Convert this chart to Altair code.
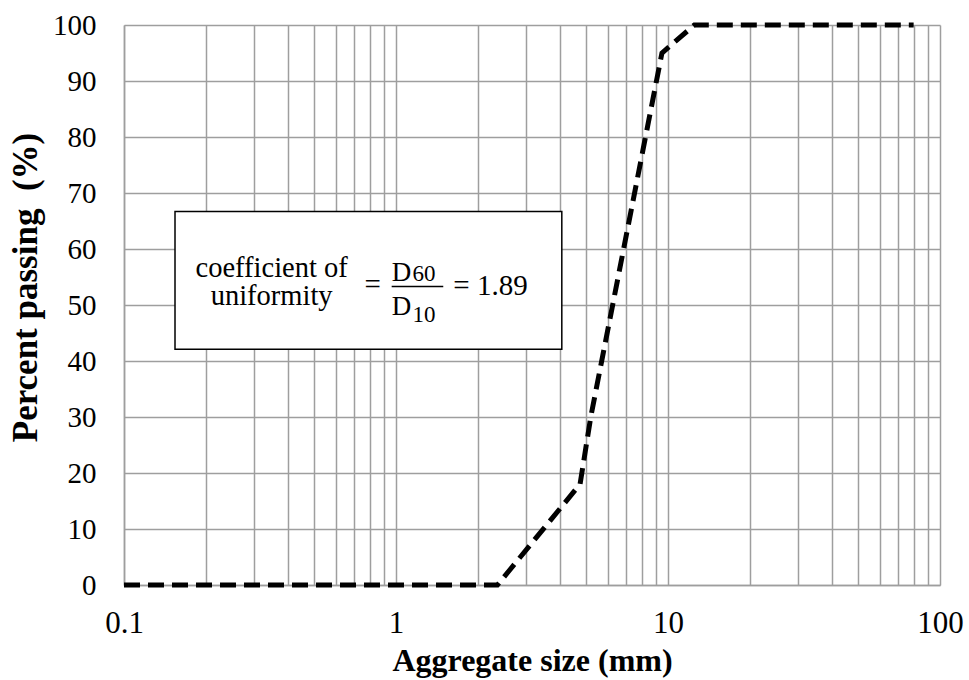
import altair as alt
import pandas as pd

# ---- data ----
sizes_mm = [0.1, 2.36, 4.75, 5.2, 9.5, 12.5, 80]
passing_pct = [0, 0, 18, 30, 95, 100, 100]

x_major = [0.1, 1, 10, 100]
x_mult = [1, 2, 3, 4, 5, 6, 7, 8, 9]
y_ticks = [0, 10, 20, 30, 40, 50, 60, 70, 80, 90, 100]

x_grid = []
for m in x_major[:-1]:
    for k in x_mult:
        x_grid.append(round(m * k, 6))
x_grid.append(100)

x_title = "Aggregate size (mm)"
y_title = "Percent passing\u00a0 (%)"

FONT = "Liberation Serif"
GRID = "#9e9e9e"

df = pd.DataFrame({"size": sizes_mm, "passing": passing_pct})

x_axis = alt.Axis(
    values=x_grid,
    labelExpr="indexof([0.1, 1, 10, 100], datum.value) >= 0 ? format(datum.value, '~g') : ''",
    title=x_title,
    grid=True, gridColor=GRID, gridWidth=1.5,
    domainColor=GRID, domainWidth=1.5,
    ticks=False, tickSize=0,
    labelFont=FONT, labelFontSize=31, labelColor="black",
    labelBaseline="alphabetic", labelPadding=47,
    labelFlush=False, labelOverlap=False,
    titleFont=FONT, titleFontSize=32, titleFontWeight="bold", titleColor="black",
    titleBaseline="alphabetic", titleX=408, titleY=85,
)
y_axis = alt.Axis(
    values=y_ticks,
    title=y_title,
    grid=True, gridColor=GRID, gridWidth=1.5,
    domainColor=GRID, domainWidth=1.5,
    ticks=False, tickSize=0,
    labelFont=FONT, labelFontSize=29, labelColor="black",
    labelPadding=28, labelFlush=False, labelOverlap=False,
    titleFont=FONT, titleFontSize=35, titleFontWeight="bold", titleColor="black",
    titleBaseline="alphabetic", titleAngle=270, titleX=-88, titleY=262,
)

xs = alt.Scale(type="log", domain=[0.1, 100])
ys = alt.Scale(domain=[0, 100], nice=False)

line = alt.Chart(df).mark_line(color="black", strokeWidth=5, strokeDash=[16, 8]).encode(
    x=alt.X("size:Q", scale=xs, axis=x_axis),
    y=alt.Y("passing:Q", scale=ys, axis=y_axis),
)

box_df = pd.DataFrame({"x": [0.154], "x2": [4.07], "y": [42.1], "y2": [66.7]})
box = alt.Chart(box_df).mark_rect(fill="white", stroke="black", strokeWidth=1.5).encode(
    x=alt.X("x:Q", scale=xs, axis=x_axis), x2="x2:Q",
    y=alt.Y("y:Q", scale=ys, axis=y_axis), y2="y2:Q",
)

frac_df = pd.DataFrame({"x": [0.964], "x2": [1.492], "y": [53.3]})
frac = alt.Chart(frac_df).mark_rule(color="black", strokeWidth=1.3).encode(
    x=alt.X("x:Q", scale=xs, axis=x_axis), x2="x2:Q",
    y=alt.Y("y:Q", scale=ys, axis=y_axis),
)


def txt(x, y, s, size, align):
    d = pd.DataFrame({"x": [x], "y": [y], "t": [s]})
    return alt.Chart(d).mark_text(
        font=FONT, fontSize=size, align=align, baseline="alphabetic", color="black"
    ).encode(
        x=alt.X("x:Q", scale=xs, axis=x_axis),
        y=alt.Y("y:Q", scale=ys, axis=y_axis),
        text="t:N",
    )


texts = [
    txt(0.349, 55.0, "coefficient of", 28.5, "center"),
    txt(0.349, 50.0, "uniformity", 28.5, "center"),
    txt(0.820, 52.0, "=", 29, "center"),
    txt(1.624, 51.8, "= 1.89", 29, "left"),
    txt(0.964, 54.3, "D", 27, "left"),
    txt(1.15, 54.3, "60", 23, "left"),
    txt(0.964, 48.2, "D", 27, "left"),
    txt(1.15, 47.0, "10", 23, "left"),
]

chart = alt.layer(box, frac, *texts, line).properties(
    width=816, height=560,
    autosize=alt.AutoSizeParams(type="none"),
    padding={"left": 124, "top": 25, "right": 29, "bottom": 95},
    background="white",
).configure_view(strokeWidth=0)

chart.save("out.html", embed_options={"renderer": "svg", "actions": False})
